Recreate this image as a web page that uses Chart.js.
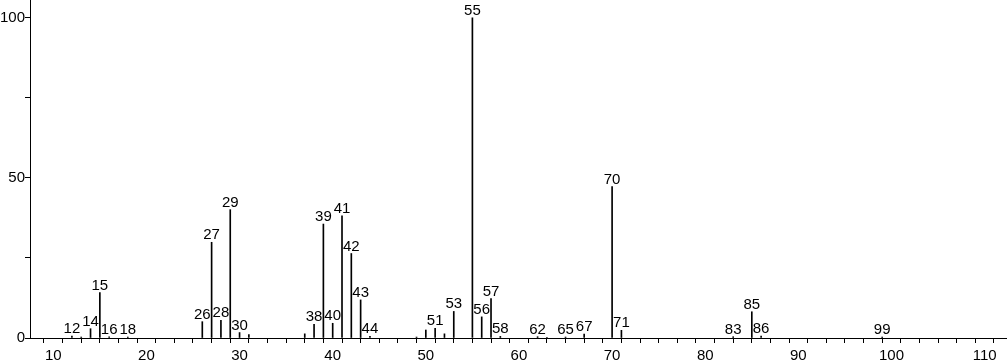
<!DOCTYPE html>
<html>
<head>
<meta charset="utf-8">
<script src="https://cdn.jsdelivr.net/npm/chart.js@4"></script>
<style>
  html, body { margin: 0; padding: 0; background: #fff; }
  #wrap { width: 1007px; height: 362px; }
</style>
</head>
<body>
<div id="wrap"><canvas id="spec"></canvas></div>
<script>
// m/z and relative intensity
const mz = [12, 13, 14, 15, 16, 18, 26, 27, 28, 29, 30, 31, 37, 38, 39, 40, 41, 42, 43, 44,
            49, 50, 51, 52, 53, 55, 56, 57, 58, 62, 63, 65, 67, 70, 71, 83, 85, 86, 99];
const intensity = [0.6, 0.3, 2.9, 14.2, 0.4, 0.3, 5.1, 29.9, 5.5, 40.1, 1.7, 1.1, 1.3, 4.3, 35.6, 4.6, 38.2, 26.4, 11.9, 0.5,
                   0.3, 2.5, 3.0, 1.3, 8.3, 100, 6.6, 12.3, 0.5, 0.4, 0.2, 0.3, 1.2, 47.3, 2.4, 0.4, 8.2, 0.6, 0.3];
// peaks that carry a number above them
const labeled = [12, 14, 15, 16, 18, 26, 27, 28, 29, 30, 38, 39, 40, 41, 42, 43, 44, 51, 53, 55,
                 56, 57, 58, 62, 65, 67, 70, 71, 83, 85, 86, 99];
const xTicks = [10, 12, 14, 16, 18, 20, 22, 24, 26, 28, 30, 32, 34, 36, 38, 40, 42, 44, 46, 48, 50,
                52, 54, 56, 58, 60, 62, 64, 66, 68, 70, 72, 74, 76, 78, 80, 82, 84, 86, 88, 90,
                92, 94, 96, 98, 100, 102, 104, 106, 108, 110, 112];
const xLabels = [10, 20, 30, 40, 50, 60, 70, 80, 90, 100, 110];
const yTicks = [0, 25, 50, 75, 100];
const yLabels = [0, 50, 100];

const FONT = "'Liberation Sans', Arial, sans-serif";

const peakLabels = {
    id: "peakLabels",
    afterDatasetsDraw(chart) {
        const ctx = chart.ctx;
        const xs = chart.scales.x, ys = chart.scales.y;
        ctx.save();
        ctx.font = "15px " + FONT;
        ctx.fillStyle = "#000";
        ctx.textAlign = "center";
        ctx.textBaseline = "alphabetic";
        labeled.forEach(m => {
            const i = mz.indexOf(m);
            const px = xs.getPixelForValue(m);
            const py = ys.getPixelForValue(intensity[i]);
            ctx.fillText(String(m), px, py - 3);
        });
        ctx.restore();
    }
};

new Chart(document.getElementById("spec"), {
    type: "bar",
    data: {
        datasets: [{
            data: mz.map((m, i) => ({ x: m, y: intensity[i] })),
            backgroundColor: "#000",
            borderWidth: 0,
            barThickness: 1
        }]
    },
    options: {
        responsive: true,
        maintainAspectRatio: false,
        animation: false,
        events: [],
        layout: { padding: 0 },
        plugins: { legend: { display: false }, tooltip: { enabled: false } },
        scales: {
            x: {
                type: "linear",
                min: 7.5,
                max: 112.4,
                offset: false,
                afterBuildTicks: s => { s.ticks = xTicks.map(v => ({ value: v })); },
                afterFit: s => { s.height = 24; s.paddingLeft = 0; s.paddingRight = 0; },
                ticks: {
                    autoSkip: false,
                    maxRotation: 0,
                    padding: 4,
                    color: "#000",
                    font: { size: 15, family: FONT },
                    callback: v => xLabels.includes(v) ? String(v) : ""
                },
                grid: { drawOnChartArea: false, drawTicks: true, tickLength: 5, color: "#000" },
                border: { display: true, color: "#000", width: 1 }
            },
            y: {
                min: 0,
                max: 105.6,
                afterBuildTicks: s => { s.ticks = yTicks.map(v => ({ value: v })); },
                afterFit: s => { s.width = 30; s.paddingTop = 0; s.paddingBottom = 0; },
                ticks: {
                    autoSkip: false,
                    padding: 0,
                    color: "#000",
                    font: { size: 15, family: FONT },
                    callback: v => yLabels.includes(v) ? String(v) : ""
                },
                grid: { drawOnChartArea: false, drawTicks: true, tickLength: 5, color: "#000" },
                border: { display: true, color: "#000", width: 1 }
            }
        }
    },
    plugins: [peakLabels]
});
</script>
</body>
</html>
